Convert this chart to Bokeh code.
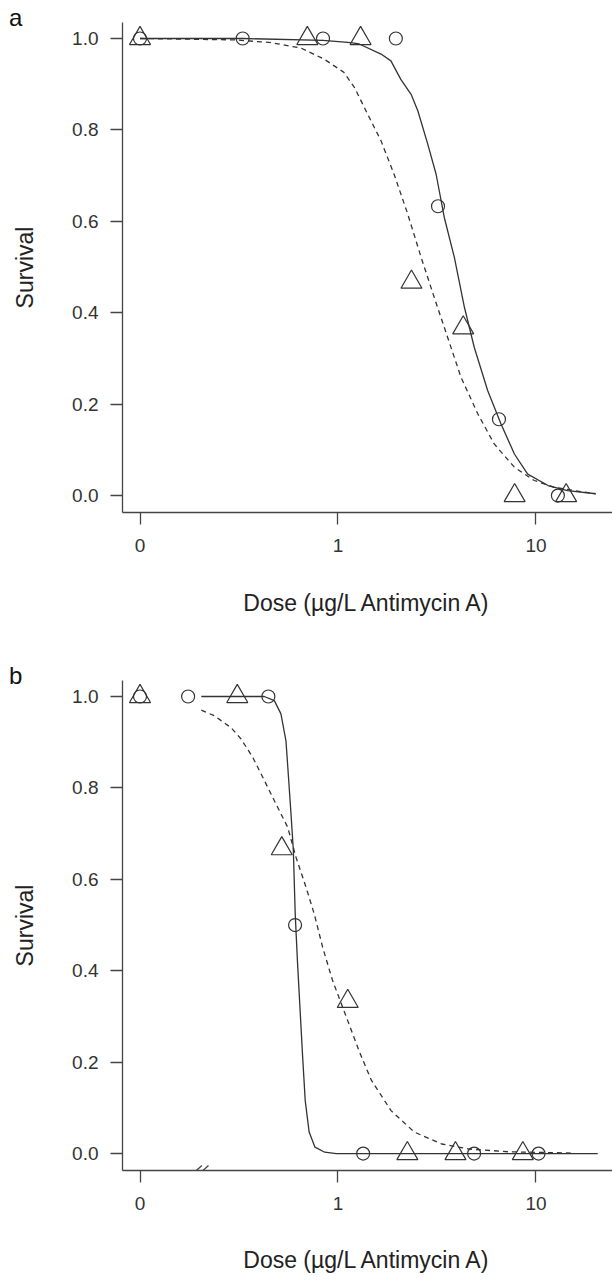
from bokeh.plotting import figure
from bokeh.layouts import column
from bokeh.models import (Range1d, FixedTicker, CustomJSTickFormatter,
                          PrintfTickFormatter, PolyAnnotation, Div)
from bokeh.embed import file_html
from bokeh.resources import INLINE

# ---------------- data ----------------
ZERO_POS = 0.1                      # where a dose of 0 is drawn on the log axis
X_TICKS = [0.1, 1, 10]
X_TICK_LABELS = ["0", "1", "10"]
Y_TICKS = [0.0, 0.2, 0.4, 0.6, 0.8, 1.0]
X_TITLE = "Dose (µg/L Antimycin A)"
Y_TITLE = "Survival"
PANEL_LETTERS = ["a", "b"]

# panel a
A_CIRCLE_DOSE = [0, 0.33, 0.84, 1.96, 3.2, 6.5, 12.9]
A_CIRCLE_SURV = [1.0, 1.0, 1.0, 1.0, 0.633, 0.167, 0.0]
A_TRI_DOSE = [0, 0.70, 1.30, 2.35, 4.29, 7.8, 14.2]
A_TRI_SURV = [1.0, 1.0, 1.0, 0.467, 0.367, 0.0, 0.0]
A_SOLID_DOSE = [0.1, 0.33, 0.84, 1.16, 1.28, 1.65, 1.85, 2.08, 2.34, 2.53, 2.84,
                3.13, 3.44, 3.87, 4.35, 4.88, 5.70, 6.65, 7.78, 9.08, 11.5, 14.4, 20.0]
A_SOLID_SURV = [1.0, 1.0, 0.996, 0.991, 0.988, 0.966, 0.951, 0.910, 0.878, 0.842, 0.769,
                0.703, 0.609, 0.521, 0.412, 0.324, 0.230, 0.157, 0.091, 0.047, 0.022, 0.011, 0.004]
A_DASH_DOSE = [0.1, 0.3, 0.46, 0.65, 0.85, 1.07, 1.21, 1.41, 1.65, 1.92, 2.25, 2.63,
               3.06, 3.58, 4.18, 5.08, 6.15, 7.78, 9.8, 12.4, 15.6, 20.0]
A_DASH_SURV = [1.0, 0.997, 0.991, 0.979, 0.955, 0.926, 0.893, 0.835, 0.776, 0.703, 0.616, 0.521,
               0.434, 0.346, 0.259, 0.179, 0.113, 0.062, 0.033, 0.018, 0.011, 0.004]

# panel b
B_CIRCLE_DOSE = [0, 0.175, 0.445, 0.607, 1.34, 4.87, 10.3]
B_CIRCLE_SURV = [1.0, 1.0, 1.0, 0.5, 0.0, 0.0, 0.0]
B_TRI_DOSE = [0, 0.31, 0.52, 1.12, 2.24, 3.92, 8.58]
B_TRI_SURV = [1.0, 1.0, 0.667, 0.333, 0.0, 0.0, 0.0]
B_SOLID_DOSE = [0.204, 0.424, 0.477, 0.515, 0.546, 0.561, 0.579, 0.595, 0.608, 0.625,
                0.645, 0.663, 0.683, 0.715, 0.765, 0.857, 0.98, 20.5]
B_SOLID_SURV = [1.0, 1.0, 0.991, 0.962, 0.903, 0.830, 0.743, 0.663, 0.524, 0.415,
                0.306, 0.211, 0.116, 0.047, 0.014, 0.003, 0.0, 0.0]
B_DASH_DOSE = [0.204, 0.237, 0.288, 0.324, 0.371, 0.425, 0.486, 0.557, 0.614, 0.689, 0.759,
               0.837, 0.94, 1.056, 1.29, 1.476, 1.853, 2.43, 3.34, 4.59, 7.22, 15.6]
B_DASH_SURV = [0.970, 0.958, 0.932, 0.907, 0.867, 0.816, 0.765, 0.714, 0.648, 0.583, 0.524,
               0.451, 0.378, 0.320, 0.220, 0.160, 0.094, 0.047, 0.021, 0.010, 0.004, 0.001]

# ---------------- style ----------------
FONT = "Liberation Sans"
INK = "#333333"
AXC = "#444444"
X_LO, X_HI = 10 ** -1.0884, 10 ** 1.3864
Y_LO, Y_HI = -0.037, 1.035
H_A, H_B = 658, 622


def pos(doses):
    return [d if d > 0 else ZERO_POS for d in doses]


def make_panel(height, bottom, cd, cs, td, ts, sd, ss, dd, ds,
               title_standoff, axis_break):
    p = figure(width=612, height=height, x_axis_type="log",
               x_range=Range1d(X_LO, X_HI), y_range=Range1d(Y_LO, Y_HI),
               output_backend="svg", toolbar_location=None,
               min_border_left=122, min_border_right=0,
               min_border_top=22, min_border_bottom=bottom)
    p.grid.visible = False
    p.outline_line_color = None
    p.background_fill_color = "white"
    p.border_fill_color = "white"

    for ax in (p.xaxis[0], p.yaxis[0]):
        ax.axis_line_color = AXC
        ax.axis_line_width = 1.3
        ax.major_tick_line_color = AXC
        ax.major_tick_line_width = 1.3
        ax.major_tick_in = 0
        ax.major_tick_out = 12
        ax.minor_tick_in = 0
        ax.minor_tick_out = 0
        ax.major_label_text_font = FONT
        ax.major_label_text_font_size = "19px"
        ax.major_label_text_color = INK
        ax.axis_label_text_font = FONT
        ax.axis_label_text_font_size = "23px"
        ax.axis_label_text_font_style = "normal"
        ax.axis_label_text_color = "#222222"

    xa = p.xaxis[0]
    xa.ticker = FixedTicker(ticks=X_TICKS, minor_ticks=[])
    xa.formatter = CustomJSTickFormatter(args=dict(pos=X_TICKS, lab=X_TICK_LABELS), code="""
        let best = 0, bd = Infinity;
        for (let i = 0; i < pos.length; i++) {
            const d = Math.abs(Math.log10(pos[i]) - Math.log10(tick));
            if (d < bd) { bd = d; best = i; }
        }
        return lab[best];
    """)
    xa.major_label_standoff = 14
    xa.axis_label = X_TITLE
    xa.axis_label_standoff = title_standoff

    ya = p.yaxis[0]
    ya.ticker = FixedTicker(ticks=Y_TICKS, minor_ticks=[])
    ya.formatter = PrintfTickFormatter(format="%.1f")
    ya.major_label_standoff = 12
    ya.axis_label = Y_TITLE
    ya.axis_label_standoff = 31

    p.line(sd, ss, line_color=INK, line_width=1.3)
    p.line(dd, ds, line_color=INK, line_width=1.3, line_dash="5 4")
    p.scatter(pos(cd), cs, marker="circle", size=13, fill_color=None,
              line_color=INK, line_width=1.2)
    p.scatter(pos(td), ts, marker="triangle", size=21, fill_color=None,
              line_color=INK, line_width=1.2)

    if axis_break:
        for x0 in (66.4, 73.0):
            p.add_layout(PolyAnnotation(xs=[x0, x0 + 13.0], ys=[-6.7, 5.0],
                                        xs_units="screen", ys_units="screen",
                                        fill_alpha=0, line_alpha=1.0,
                                        line_color=AXC, line_width=1.3))
    return p


def letter_div(text, top):
    return Div(text=text, styles={
        "position": "absolute", "left": "9px", "top": f"{top}px",
        "z-index": "10", "margin": "0", "padding": "0",
        "font-family": FONT, "font-size": "24px", "line-height": "24px",
        "color": "#111111"})


pa = make_panel(H_A, 146, A_CIRCLE_DOSE, A_CIRCLE_SURV, A_TRI_DOSE, A_TRI_SURV,
                A_SOLID_DOSE, A_SOLID_SURV, A_DASH_DOSE, A_DASH_SURV, 35, False)
pb = make_panel(H_B, 110, B_CIRCLE_DOSE, B_CIRCLE_SURV, B_TRI_DOSE, B_TRI_SURV,
                B_SOLID_DOSE, B_SOLID_SURV, B_DASH_DOSE, B_DASH_SURV, 34, True)

layout = column(pa, pb, letter_div(PANEL_LETTERS[0], 6),
                letter_div(PANEL_LETTERS[1], H_A + 6), spacing=0)
open("out.html", "w").write(file_html(layout, INLINE))
